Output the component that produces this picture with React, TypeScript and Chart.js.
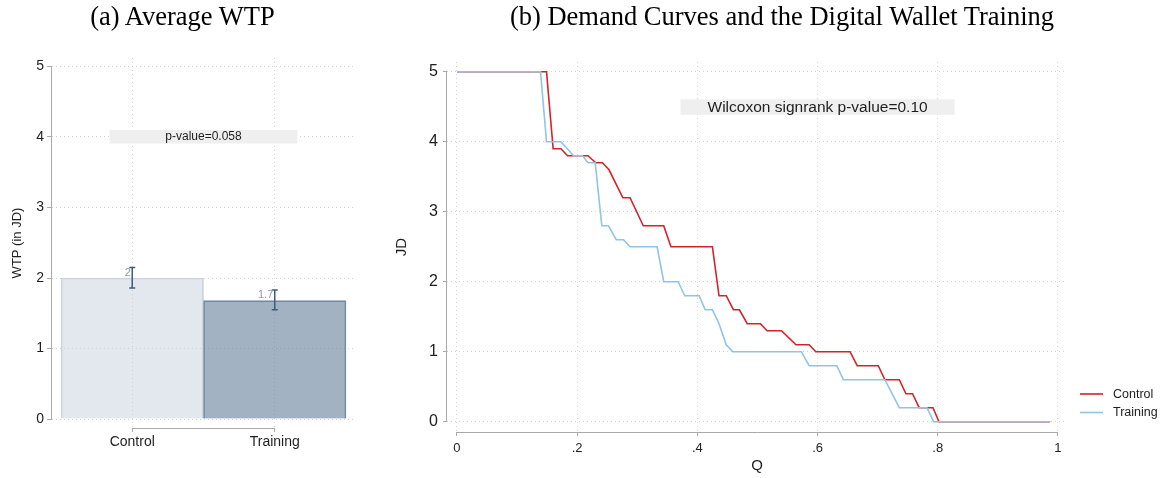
import React, { useEffect, useRef } from 'react';
import { Chart, registerables } from 'chart.js';

Chart.register(...registerables);

const SANS = "'Liberation Sans', Arial, Helvetica, sans-serif";
const SERIF = "'Liberation Serif', 'Times New Roman', serif";

// ---------- Panel (a): Average WTP ----------
const categories = ['Control', 'Training'];
const wtpMeans = [2.0, 1.68];
const wtpCiLow = [1.86, 1.55];
const wtpCiHigh = [2.15, 1.83];
const wtpTicks = [0, 1, 2, 3, 4, 5];
const pValueText = 'p-value=0.058';
const pValueY = 4;

// ---------- Panel (b): Demand curves ----------
const controlQ = [0, 0.149, 0.16, 0.173, 0.184, 0.218, 0.231, 0.242, 0.253, 0.276, 0.288, 0.31, 0.344, 0.356, 0.425, 0.436, 0.448, 0.46, 0.47, 0.483, 0.505, 0.516, 0.54, 0.564, 0.586, 0.597, 0.654, 0.666, 0.701, 0.712, 0.736, 0.747, 0.758, 0.769, 0.792, 0.802, 0.987];
const controlJD = [5, 5, 3.9, 3.9, 3.8, 3.8, 3.7, 3.7, 3.6, 3.2, 3.2, 2.8, 2.8, 2.5, 2.5, 1.8, 1.8, 1.6, 1.6, 1.4, 1.4, 1.3, 1.3, 1.1, 1.1, 1.0, 1.0, 0.8, 0.8, 0.6, 0.6, 0.4, 0.4, 0.2, 0.2, 0, 0];
const trainingQ = [0, 0.139, 0.149, 0.173, 0.194, 0.209, 0.218, 0.23, 0.241, 0.252, 0.265, 0.277, 0.288, 0.333, 0.344, 0.368, 0.379, 0.403, 0.413, 0.425, 0.436, 0.448, 0.459, 0.573, 0.586, 0.632, 0.643, 0.712, 0.736, 0.782, 0.793, 0.987];
const trainingJD = [5, 5, 4.0, 4.0, 3.8, 3.8, 3.7, 3.7, 2.8, 2.8, 2.6, 2.6, 2.5, 2.5, 2.0, 2.0, 1.8, 1.8, 1.6, 1.6, 1.4, 1.1, 1.0, 1.0, 0.8, 0.8, 0.6, 0.6, 0.2, 0.2, 0, 0];
const seriesNames = ['Control', 'Training'];
const seriesColors = ['#d1232a', '#8fc4e6'];
const qTicks = [0, 0.2, 0.4, 0.6, 0.8, 1];
const qTickLabels = ['0', '.2', '.4', '.6', '.8', '1'];
const jdTicks = [0, 1, 2, 3, 4, 5];
const wilcoxonText = 'Wilcoxon signrank p-value=0.10';
const wilcoxonQ = 0.6;
const wilcoxonY = 4.5;

const AXIS = '#a9a9a9';
const GRID = '#d3d3d3';
const TEXT = '#1e1e1e';

const fmtLabel = (v: number) => String(Number(v.toFixed(1)));

const barDecor = {
  id: 'barDecor',
  afterDatasetsDraw(chart: any) {
    const { ctx, chartArea, scales } = chart;
    const x = scales.x;
    const y = scales.y;
    ctx.save();
    ctx.strokeStyle = AXIS;
    ctx.lineWidth = 1;
    ctx.beginPath();
    const lx = Math.round(chartArea.left) - 0.5;
    ctx.moveTo(lx, y.getPixelForValue(wtpTicks[0]));
    ctx.lineTo(lx, y.getPixelForValue(wtpTicks[wtpTicks.length - 1]));
    const by = Math.round(chartArea.bottom) + 0.5;
    ctx.moveTo(x.getPixelForValue(1), by);
    ctx.lineTo(x.getPixelForValue(categories.length), by);
    ctx.stroke();

    // error bars
    ctx.strokeStyle = '#3f5b7b';
    ctx.lineWidth = 1.5;
    categories.forEach((_, i) => {
      const px = x.getPixelForValue(i + 1);
      const t = y.getPixelForValue(wtpCiHigh[i]);
      const b = y.getPixelForValue(wtpCiLow[i]);
      ctx.beginPath();
      ctx.moveTo(px, t);
      ctx.lineTo(px, b);
      ctx.moveTo(px - 3, t);
      ctx.lineTo(px + 3, t);
      ctx.moveTo(px - 3, b);
      ctx.lineTo(px + 3, b);
      ctx.stroke();
    });

    // value labels
    ctx.fillStyle = '#8a9cb0';
    ctx.font = `11px ${SANS}`;
    ctx.textAlign = 'right';
    ctx.textBaseline = 'alphabetic';
    categories.forEach((_, i) => {
      const px = x.getPixelForValue(i + 1);
      ctx.fillText(fmtLabel(wtpMeans[i]), px - 1.5, y.getPixelForValue(wtpMeans[i]) - 2.5);
    });

    // p-value box
    const cx = (chartArea.left + chartArea.right) / 2;
    const cy = y.getPixelForValue(pValueY);
    ctx.fillStyle = '#efefef';
    ctx.fillRect(cx - 94, cy - 7, 188, 13.5);
    ctx.fillStyle = TEXT;
    ctx.font = `12px ${SANS}`;
    ctx.textAlign = 'center';
    ctx.textBaseline = 'middle';
    ctx.fillText(pValueText, cx, cy);
    ctx.restore();
  },
};

const demandDecor = {
  id: 'demandDecor',
  afterDraw(chart: any) {
    const { ctx, chartArea, scales } = chart;
    const x = scales.x;
    const y = scales.y;
    ctx.save();
    ctx.strokeStyle = AXIS;
    ctx.lineWidth = 1;
    ctx.beginPath();
    const lx = Math.round(chartArea.left) - 0.5;
    ctx.moveTo(lx, y.getPixelForValue(jdTicks[0]));
    ctx.lineTo(lx, y.getPixelForValue(jdTicks[jdTicks.length - 1]));
    const by = Math.round(chartArea.bottom) + 0.5;
    ctx.moveTo(x.getPixelForValue(qTicks[0]), by);
    ctx.lineTo(x.getPixelForValue(qTicks[qTicks.length - 1]), by);
    ctx.stroke();

    // Wilcoxon box
    const cx = x.getPixelForValue(wilcoxonQ);
    const cy = y.getPixelForValue(wilcoxonY);
    ctx.fillStyle = '#efefef';
    ctx.fillRect(cx - 137, cy - 7.5, 274, 15.5);
    ctx.fillStyle = TEXT;
    ctx.font = `15.5px ${SANS}`;
    ctx.textAlign = 'center';
    ctx.textBaseline = 'middle';
    ctx.fillText(wilcoxonText, cx, cy + 0.5);

    // legend
    ctx.font = `12.5px ${SANS}`;
    ctx.textAlign = 'left';
    seriesNames.forEach((name, i) => {
      const ly = chartArea.bottom - 38 + i * 18.5;
      const x0 = chartArea.right + 13;
      ctx.strokeStyle = seriesColors[i];
      ctx.lineWidth = 1.6;
      ctx.beginPath();
      ctx.moveTo(x0, ly);
      ctx.lineTo(x0 + 23, ly);
      ctx.stroke();
      ctx.fillStyle = TEXT;
      ctx.fillText(name, x0 + 33, ly + 0.5);
    });
    ctx.restore();
  },
};

function BarPanel() {
  const ref = useRef<HTMLCanvasElement | null>(null);
  useEffect(() => {
    if (!ref.current) return;
    const chart = new Chart(ref.current, {
      type: 'bar',
      data: {
        datasets: [
          {
            data: categories.map((_, i) => ({ x: i + 1, y: wtpMeans[i] })),
            backgroundColor: ['rgba(200,210,222,0.5)', 'rgba(100,127,155,0.6)'],
            borderColor: ['#cbd4de', '#7a91a7'],
            borderWidth: 1,
            barPercentage: 1,
            categoryPercentage: 1,
          } as any,
        ],
      },
      options: {
        responsive: false,
        animation: false,
        devicePixelRatio: 1,
        layout: { padding: { left: 0, top: 58, right: 15, bottom: 0 } },
        plugins: { legend: { display: false }, tooltip: { enabled: false } },
        scales: {
          x: {
            type: 'linear',
            min: 0.4368,
            max: 2.5632,
            offset: false,
            afterBuildTicks: (s: any) => {
              s.ticks = categories.map((_, i) => ({ value: i + 1 }));
            },
            afterFit: (s: any) => {
              s.height = 50;
            },
            ticks: {
              autoSkip: false,
              maxRotation: 0,
              padding: 2,
              color: TEXT,
              font: { family: SANS, size: 14 },
              callback: (v: any) => categories[Math.round(Number(v)) - 1] ?? '',
            },
            grid: {
              offset: false,
              color: GRID,
              lineWidth: 1,
              tickLength: 4,
              tickColor: AXIS,
              tickBorderDash: [],
            },
            border: { display: false, dash: [1, 3] },
          } as any,
          y: {
            type: 'linear',
            min: -0.127,
            max: 5.12,
            afterBuildTicks: (s: any) => {
              s.ticks = wtpTicks.map((v) => ({ value: v }));
            },
            afterFit: (s: any) => {
              s.width = 52;
            },
            ticks: {
              padding: 3,
              color: TEXT,
              font: { family: SANS, size: 14 },
              callback: (v: any) => String(v),
            },
            grid: {
              color: GRID,
              lineWidth: 1,
              tickLength: 5,
              tickColor: AXIS,
              tickBorderDash: [],
            },
            border: { display: false, dash: [1, 3] },
            title: {
              display: true,
              text: 'WTP (in JD)',
              color: TEXT,
              font: { family: SANS, size: 13 },
              padding: { top: 10, bottom: 0 },
            },
          } as any,
        },
      },
      plugins: [barDecor],
    } as any);
    return () => chart.destroy();
  }, []);
  return <canvas ref={ref} width={370} height={478} style={{ position: 'absolute', left: 0, top: 0 }} />;
}

function DemandPanel() {
  const ref = useRef<HTMLCanvasElement | null>(null);
  useEffect(() => {
    if (!ref.current) return;
    const chart = new Chart(ref.current, {
      type: 'line',
      data: {
        datasets: [
          {
            label: seriesNames[0],
            data: controlQ.map((q, i) => ({ x: q, y: controlJD[i] })),
            borderColor: seriesColors[0],
            borderWidth: 1.6,
            pointRadius: 0,
            tension: 0,
            fill: false,
            order: 1,
          },
          {
            label: seriesNames[1],
            data: trainingQ.map((q, i) => ({ x: q, y: trainingJD[i] })),
            borderColor: seriesColors[1],
            borderWidth: 1.6,
            pointRadius: 0,
            tension: 0,
            fill: false,
            order: 0,
          },
        ],
      },
      options: {
        responsive: false,
        animation: false,
        devicePixelRatio: 1,
        layout: { padding: { left: 0, top: 62, right: 94, bottom: 0 } },
        plugins: { legend: { display: false }, tooltip: { enabled: false } },
        scales: {
          x: {
            type: 'linear',
            min: -0.0166,
            max: 1.015,
            afterBuildTicks: (s: any) => {
              s.ticks = qTicks.map((v) => ({ value: v }));
            },
            afterFit: (s: any) => {
              s.height = 46;
            },
            ticks: {
              autoSkip: false,
              maxRotation: 0,
              padding: 5,
              color: TEXT,
              font: { family: SANS, size: 13 },
              callback: (v: any, i: number) => qTickLabels[i] ?? String(v),
            },
            grid: {
              color: GRID,
              lineWidth: 1,
              tickLength: 4,
              tickColor: AXIS,
              tickBorderDash: [],
            },
            border: { display: false, dash: [1, 3] },
            title: {
              display: true,
              text: 'Q',
              color: TEXT,
              font: { family: SANS, size: 15 },
              padding: { top: 0, bottom: 3 },
            },
          } as any,
          y: {
            type: 'linear',
            min: -0.147,
            max: 5.14,
            afterBuildTicks: (s: any) => {
              s.ticks = jdTicks.map((v) => ({ value: v }));
            },
            afterFit: (s: any) => {
              s.width = 77;
            },
            ticks: {
              padding: 5,
              color: TEXT,
              font: { family: SANS, size: 16 },
              callback: (v: any) => String(v),
            },
            grid: {
              color: GRID,
              lineWidth: 1,
              tickLength: 4,
              tickColor: AXIS,
              tickBorderDash: [],
            },
            border: { display: false, dash: [1, 3] },
            title: {
              display: true,
              text: 'JD',
              color: TEXT,
              font: { family: SANS, size: 15 },
              padding: { top: 23, bottom: 0 },
            },
          } as any,
        },
      },
      plugins: [demandDecor],
    } as any);
    return () => chart.destroy();
  }, []);
  return <canvas ref={ref} width={791} height={478} style={{ position: 'absolute', left: 370, top: 0 }} />;
}

export default function App() {
  const titleStyle: React.CSSProperties = {
    position: 'absolute',
    top: 0,
    height: 32,
    lineHeight: '32px',
    fontFamily: SERIF,
    fontSize: 26.5,
    textAlign: 'center',
    color: '#000',
    whiteSpace: 'nowrap',
  };
  return (
    <div style={{ position: 'absolute', left: 0, top: 0, width: 1161, height: 478, background: '#fff', overflow: 'hidden' }}>
      <BarPanel />
      <DemandPanel />
      <div style={{ ...titleStyle, left: 0, width: 365 }}>(a) Average WTP</div>
      <div style={{ ...titleStyle, left: 403, width: 758 }}>(b) Demand Curves and the Digital Wallet Training</div>
    </div>
  );
}
